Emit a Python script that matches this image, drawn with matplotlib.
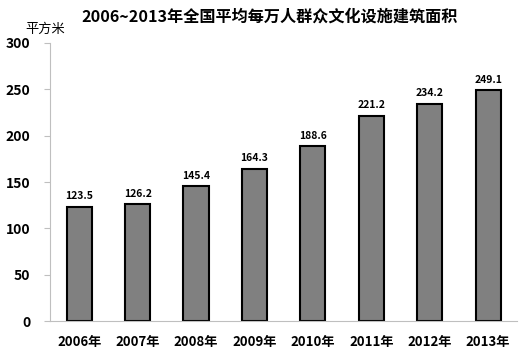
import matplotlib
matplotlib.use("Agg")
import matplotlib.pyplot as plt
import numpy as np

plt.rcParams['font.family'] = ['Noto Sans CJK SC', 'DejaVu Sans']

# data
years = ['2006年', '2007年', '2008年', '2009年', '2010年', '2011年', '2012年', '2013年']
area = [123.5, 126.2, 145.4, 164.3, 188.6, 221.2, 234.2, 249.1]
yticks = [0, 50, 100, 150, 200, 250, 300]

fig = plt.figure(figsize=(5.24, 3.58), dpi=100)
ax = fig.add_axes([0.0954, 0.103, 0.892, 0.777])

x = np.arange(len(years))
bars = ax.bar(x, area, width=0.43, color='#808080', edgecolor='black', linewidth=1.5)
for xi, v in zip(x, area):
    ax.text(xi, v + 6, f'{v:.1f}', ha='center', va='bottom', fontsize=7.5, fontweight='bold')

ax.set_xlim(-0.5, len(years) - 0.5)
ax.set_ylim(0, 300)
ax.set_yticks(yticks)
ax.set_xticks(x)
ax.set_xticklabels(years, fontsize=9.5, fontweight='bold')
ax.set_yticklabels([str(t) for t in yticks], fontsize=10, fontweight='bold')
ax.tick_params(axis='x', length=0, pad=10)
ax.tick_params(axis='y', length=4, color='#bfbfbf', pad=10)

for s in ['top', 'right']:
    ax.spines[s].set_visible(False)
ax.spines['left'].set_color('#bfbfbf')
ax.spines['bottom'].set_color('#bfbfbf')

fig.text(0.515, 0.955, '2006~2013年全国平均每万人群众文化设施建筑面积', ha='center', va='center',
         fontsize=11.6, fontweight='bold')
fig.text(0.087, 0.918, '平方米', ha='center', va='center', fontsize=9.5)

fig.savefig('out.png', dpi=100)
